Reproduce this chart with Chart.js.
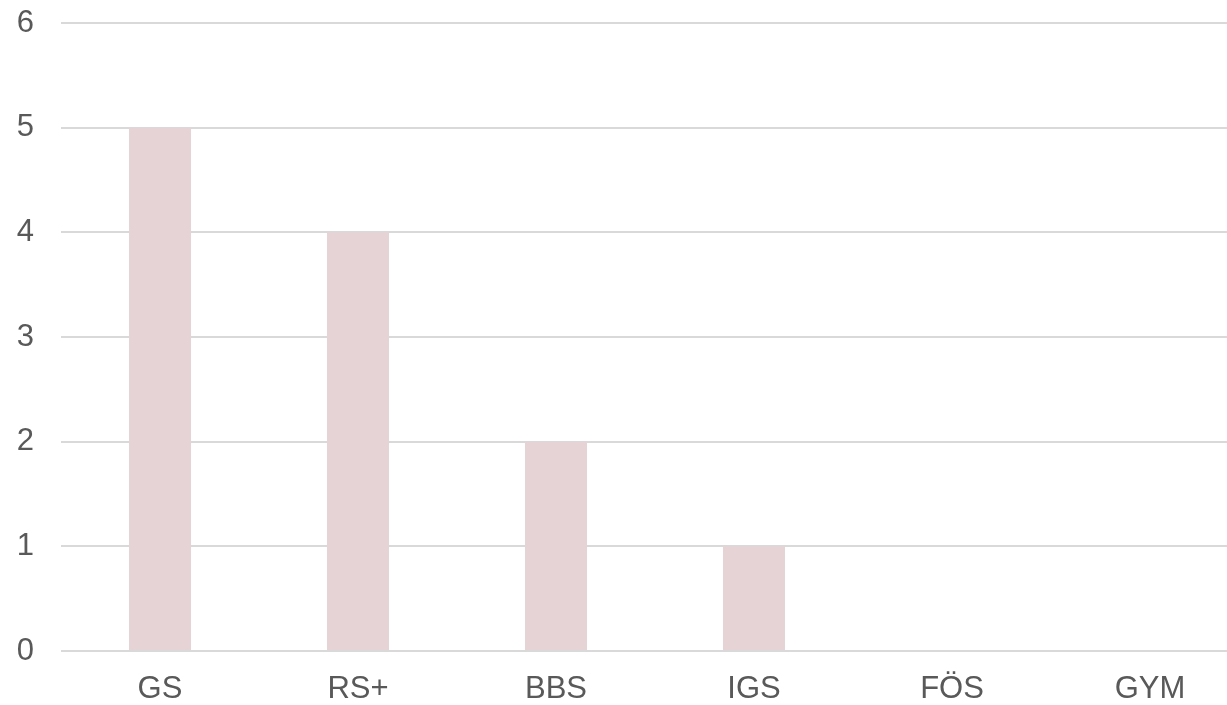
<!DOCTYPE html>
<html>
<head>
<meta charset="utf-8">
<script src="https://cdn.jsdelivr.net/npm/chart.js@4"></script>
<style>
html,body{margin:0;padding:0;background:#fff;overflow:hidden;}
#caja{width:1249px;height:705px;}
</style>
</head>
<body>
<div id="caja"><canvas id="grafico"></canvas></div>
<script>
// Datos
const schulformen=["GS","RS+","BBS","IGS","FÖS","GYM"];
const anzahl=[5,4,2,1,0,0];
const yTicks=[0,1,2,3,4,5,6];

const textoColor="#595959";
const fuente={family:"'Liberation Sans', Arial, Helvetica, sans-serif",size:31};

const ctx=document.getElementById("grafico").getContext("2d");
new Chart(ctx,{
  type:"bar",
  data:{
    labels:schulformen,
    datasets:[{data:anzahl,backgroundColor:"#e6d3d6",borderWidth:0,barPercentage:1,categoryPercentage:0.313}]
  },
  options:{
    responsive:true,
    maintainAspectRatio:false,
    animation:false,
    layout:{padding:0},
    plugins:{legend:{display:false},tooltip:{enabled:false}},
    scales:{
      x:{
        grid:{display:false},
        border:{display:false},
        ticks:{color:textoColor,font:fuente,padding:12,maxRotation:0},
        afterFit:axis=>{axis.height=54;}
      },
      y:{
        min:0,max:6,
        afterBuildTicks:axis=>{axis.ticks=yTicks.map(v=>({value:v}));},
        grid:{color:"#d9d9d9",lineWidth:2,drawTicks:false},
        border:{display:false},
        ticks:{color:textoColor,font:fuente,padding:27},
        afterFit:axis=>{axis.width=61;axis.paddingTop=23;axis.paddingBottom=0;}
      }
    }
  }
});
</script>
</body>
</html>
